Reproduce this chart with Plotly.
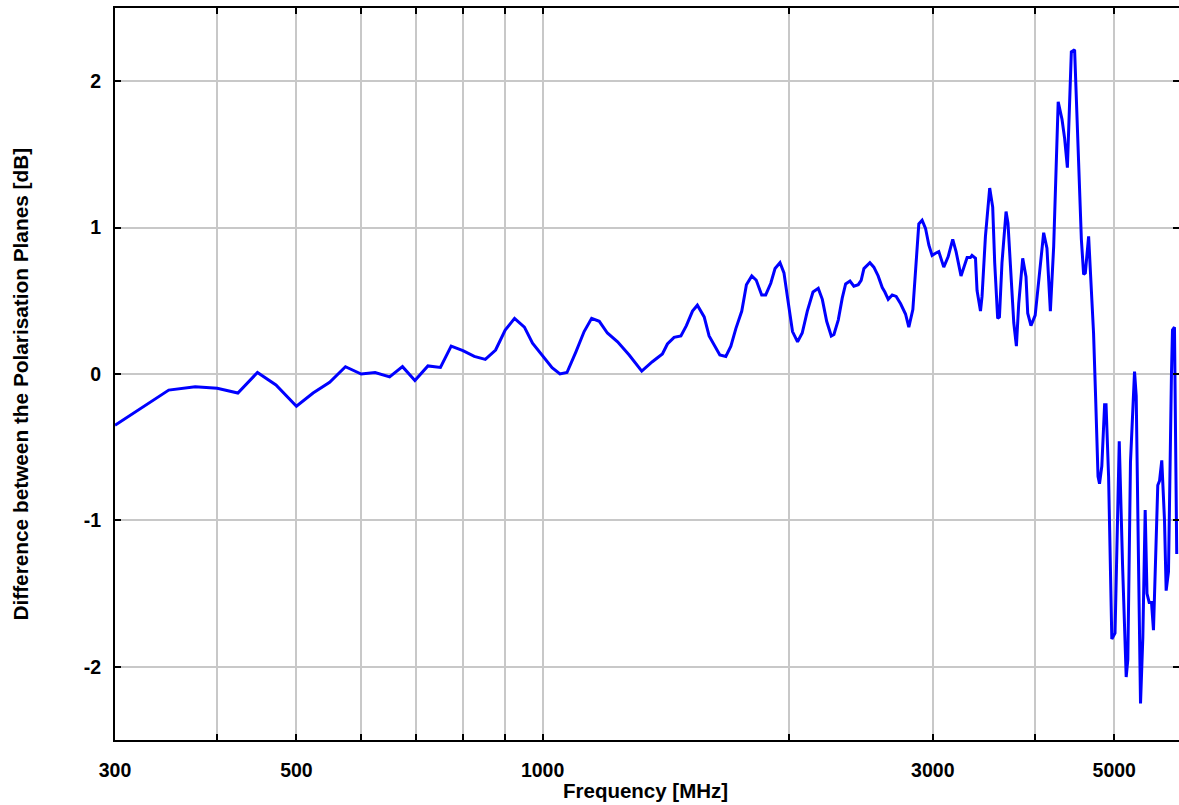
import plotly.graph_objects as go
import math

freq_mhz = [300, 325, 349, 376, 400, 424, 448, 472, 500, 524, 549, 574, 600, 624, 650, 674, 698, 724, 750, 773,
            799, 825, 851, 876, 900, 924, 950, 972, 1000, 1027, 1050, 1071, 1098, 1124, 1148, 1173, 1200, 1235, 1276, 1322,
            1362, 1401, 1421, 1448, 1476, 1499, 1525, 1546, 1576, 1598, 1647, 1675, 1699, 1723, 1752, 1775, 1802, 1825, 1853, 1874,
            1901, 1924, 1951, 1973, 1993, 2021, 2050, 2077, 2107, 2141, 2173, 2198, 2225, 2254, 2271, 2299, 2325, 2347, 2376, 2402,
            2432, 2452, 2471, 2513, 2541, 2572, 2602, 2621, 2646, 2676, 2706, 2740, 2778, 2804, 2836, 2857, 2884, 2911, 2939, 2967,
            2994, 3023, 3051, 3094, 3132, 3173, 3203, 3248, 3304, 3335, 3350, 3383, 3398, 3431, 3446, 3479, 3521, 3551, 3571, 3601,
            3619, 3645, 3687, 3707, 3733, 3768, 3796, 3821, 3864, 3900, 3919, 3955, 4002, 4050, 4099, 4137, 4177, 4216, 4243, 4270,
            4316, 4348, 4382, 4431, 4472, 4523, 4558, 4587, 4609, 4652, 4682, 4717, 4744, 4777, 4797, 4828, 4866, 4886, 4921, 4966,
            5011, 5040, 5071, 5118, 5171, 5195, 5234, 5294, 5319, 5354, 5384, 5419, 5455, 5483, 5517, 5553, 5584, 5652, 5680, 5716,
            5760, 5787, 5825, 5874, 5891, 5924, 5962]

diff_db = [-0.35, -0.22, -0.11, -0.087, -0.098, -0.13, 0.01, -0.075, -0.22, -0.13, -0.057, 0.05, 0.0, 0.01, -0.02, 0.05, -0.045, 0.055, 0.045, 0.19,
           0.16, 0.12, 0.10, 0.164, 0.30, 0.38, 0.32, 0.21, 0.12, 0.043, 0.0, 0.01, 0.15, 0.29, 0.38, 0.36, 0.28, 0.22, 0.13, 0.02,
           0.084, 0.137, 0.205, 0.25, 0.26, 0.33, 0.43, 0.47, 0.39, 0.26, 0.13, 0.12, 0.19, 0.31, 0.43, 0.61, 0.67, 0.64, 0.54, 0.54,
           0.62, 0.72, 0.76, 0.69, 0.52, 0.29, 0.22, 0.28, 0.43, 0.56, 0.585, 0.51, 0.36, 0.26, 0.27, 0.37, 0.52, 0.615, 0.635, 0.60,
           0.61, 0.64, 0.72, 0.76, 0.73, 0.67, 0.59, 0.56, 0.51, 0.54, 0.53, 0.48, 0.41, 0.32, 0.44, 0.69, 1.025, 1.05, 0.995, 0.88,
           0.81, 0.825, 0.836, 0.73, 0.80, 0.92, 0.836, 0.67, 0.795, 0.795, 0.81, 0.79, 0.57, 0.43, 0.53, 0.94, 1.27, 1.14, 0.76, 0.38,
           0.39, 0.76, 1.11, 1.03, 0.71, 0.35, 0.19, 0.48, 0.79, 0.665, 0.415, 0.33, 0.40, 0.68, 0.965, 0.86, 0.43, 0.87, 1.33, 1.86,
           1.74, 1.61, 1.41, 2.20, 2.215, 1.44, 0.92, 0.68, 0.69, 0.94, 0.64, 0.28, -0.15, -0.70, -0.75, -0.63, -0.21, -0.21, -0.70, -1.81,
           -1.77, -1.0, -0.46, -1.3, -2.07, -1.95, -0.6, 0.016, -0.15, -1.3, -2.25, -1.8, -0.93, -1.5, -1.56, -1.56, -1.75, -0.76, -0.73, -0.59,
           -1.0, -1.48, -1.35, 0.0, 0.30, 0.32, -1.23]

x_tickvals = [300, 400, 500, 600, 700, 800, 900, 1000, 2000, 3000, 4000, 5000]
x_ticktext = ["300", "", "500", "", "", "", "", "1000", "", "3000", "", "5000"]
y_tickvals = [-2, -1, 0, 1, 2]
y_ticktext = ["-2", "-1", "0", "1", "2"]

x_title = "Frequency [MHz]"
y_title = "Difference between the Polarisation Planes [dB]"

FONT = "Liberation Sans, Arial, Helvetica, sans-serif"

fig = go.Figure()
fig.add_trace(go.Scatter(x=freq_mhz, y=diff_db, mode="lines",
                         line=dict(color="#0000ff", width=3), showlegend=False))

axis_common = dict(
    showline=True, linecolor="black", linewidth=2, mirror="ticks",
    ticks="inside", ticklen=6, tickwidth=1.5, tickcolor="black",
    showgrid=True, gridcolor="#c8c8c8", gridwidth=1.5, zeroline=False,
    tickfont=dict(family=FONT, size=19.5, color="black", weight="bold"),
)

fig.update_xaxes(type="log", range=[math.log10(300), math.log10(6000)],
                 tickmode="array", tickvals=x_tickvals, ticktext=x_ticktext,
                 ticklabelstandoff=12, **axis_common)
fig.update_yaxes(range=[-2.5, 2.5], tickmode="array", tickvals=y_tickvals, ticktext=y_ticktext,
                 ticklabelstandoff=8, **axis_common)

fig.add_annotation(text=x_title, xref="paper", yref="paper", x=0.499, y=-0.069,
                   xanchor="center", yanchor="middle", showarrow=False,
                   font=dict(family=FONT, size=20.5, color="black", weight="bold"))
fig.add_annotation(text=y_title, xref="paper", yref="paper", x=-0.089, y=0.486,
                   xanchor="center", yanchor="middle", showarrow=False, textangle=-90,
                   font=dict(family=FONT, size=20.8, color="black", weight="bold"))

fig.update_layout(width=1181, height=805, margin=dict(l=115, r=0, t=8, b=65),
                  plot_bgcolor="white", paper_bgcolor="white")

fig.write_html("out.html", config={"displayModeBar": False},
               post_script="document.body.style.margin='0';document.body.style.overflow='hidden';document.documentElement.style.overflow='hidden';")
